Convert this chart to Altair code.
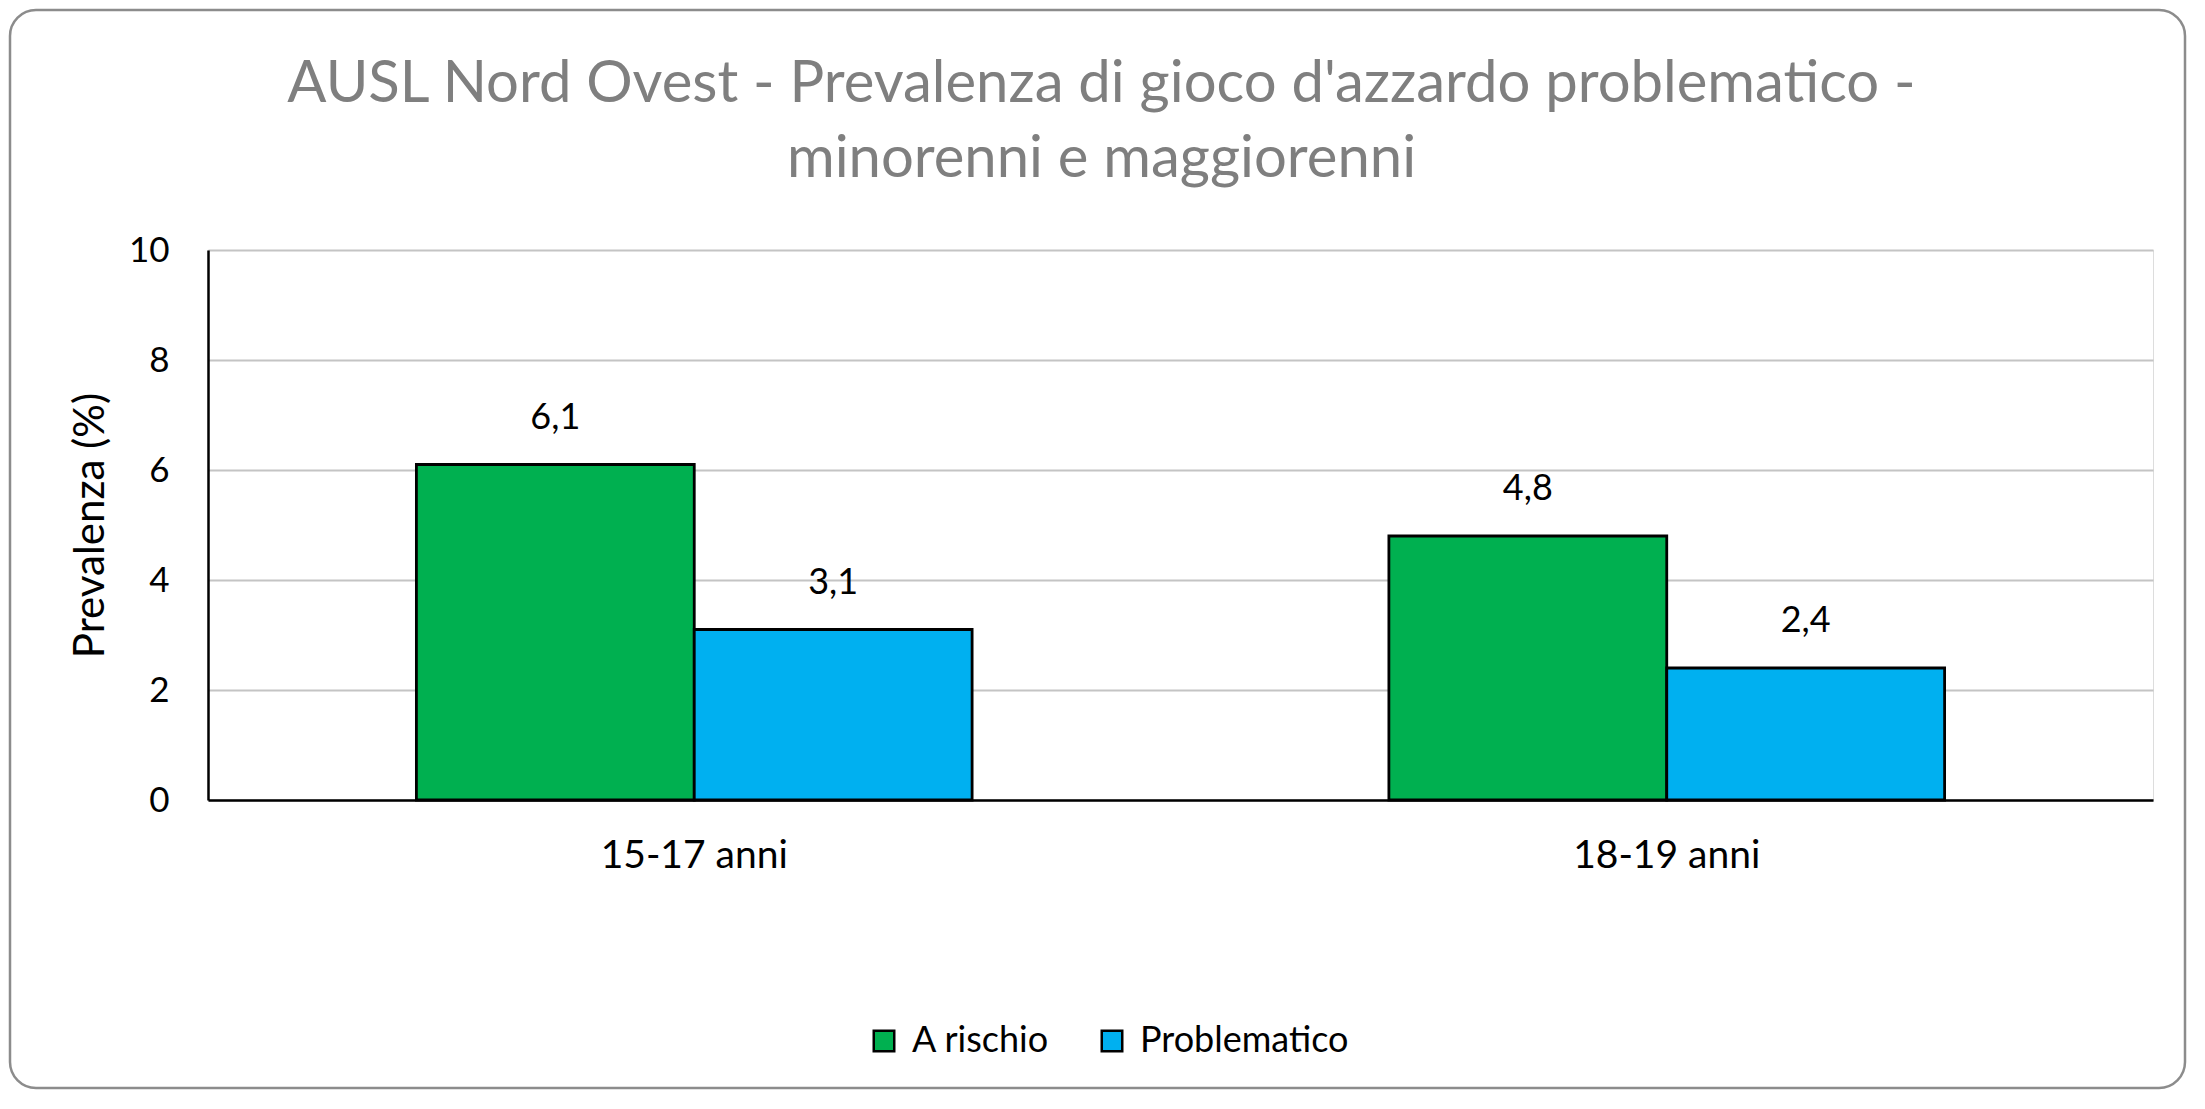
import altair as alt
import pandas as pd

categories = ["15-17 anni", "18-19 anni"]
series = ["A rischio", "Problematico"]
a_rischio = [6.1, 4.8]
problematico = [3.1, 2.4]
colors = ["#00b050", "#00b0f0"]
y_ticks = [0, 2, 4, 6, 8, 10]

rows = []
for i, c in enumerate(categories):
    rows.append({"cat": c, "serie": series[0], "val": a_rischio[i]})
    rows.append({"cat": c, "serie": series[1], "val": problematico[i]})
df = pd.DataFrame(rows)

FONT = "Lato"
W, H = 1945, 550
PAD = {"left": 200, "top": 242, "right": 34, "bottom": 290}

x = alt.X("cat:N", sort=categories,
          scale=alt.Scale(paddingInner=0, paddingOuter=0),
          axis=alt.Axis(title=None, labelAngle=0, ticks=False, domainColor="black",
                        domainWidth=2.5, labelPadding=36, labelFontSize=39,
                        labelLimit=0, labelColor="black", labelFont=FONT, grid=False))
xo = alt.XOffset("serie:N", sort=series,
                 scale=alt.Scale(paddingInner=0, paddingOuter=0.75))
y = alt.Y("val:Q", scale=alt.Scale(domain=[0, 10]),
          axis=alt.Axis(values=y_ticks, title="Prevalenza (%)", ticks=False,
                        domainColor="black", domainWidth=2.5, gridColor="#c4c4c4",
                        gridWidth=2, labelPadding=39, labelFontSize=35,
                        labelColor="black", labelFont=FONT, titleFont=FONT,
                        titleFontSize=42, titleFontWeight="normal",
                        titleColor="black", titlePadding=16))

base = alt.Chart(df)

bars = base.mark_bar(stroke="black", strokeWidth=2.8).encode(
    x=x, xOffset=xo, y=y,
    color=alt.Color("serie:N", sort=series,
                    scale=alt.Scale(domain=series, range=colors),
                    legend=alt.Legend(title=None, orient="none", direction="horizontal",
                                      legendX=658, legendY=773, symbolType="square",
                                      symbolSize=420, symbolStrokeColor="black",
                                      symbolStrokeWidth=2.5, symbolOpacity=1,
                                      labelFontSize=36, labelFont=FONT, labelLimit=0,
                                      labelColor="black", labelOffset=10,
                                      columnPadding=44, padding=0)),
)

labels = base.transform_calculate(
    lab="replace(format(datum.val, '.1f'), '.', ',')"
).mark_text(baseline="bottom", dy=-28, fontSize=36, font=FONT, color="black").encode(
    x=x, xOffset=xo, y=y, text="lab:N"
)

frame = alt.Chart(pd.DataFrame({"k": [0]})).mark_rect(
    fill=None, stroke="#8c8c8c", strokeWidth=2.5, cornerRadius=26, clip=False
).encode(
    x=alt.value(-198), x2=alt.value(W + PAD["right"] - 2),
    y=alt.value(-240), y2=alt.value(H + PAD["bottom"] - 2)
)

chart = alt.layer(frame, bars, labels).properties(
    width=W, height=H,
    padding=PAD,
    autosize=alt.AutoSizeParams(type="none"),
    title=alt.Title(["AUSL Nord Ovest - Prevalenza di gioco d'azzardo problematico -",
                     "minorenni e maggiorenni"],
                    fontSize=58, font=FONT, color="#7f7f7f", fontWeight="normal",
                    anchor="middle", frame="group", dx=-79, offset=-180, lineHeight=75),
).configure_view(stroke=None).configure(background="white")

chart.save("out.html", embed_options={"renderer": "svg", "actions": False})
